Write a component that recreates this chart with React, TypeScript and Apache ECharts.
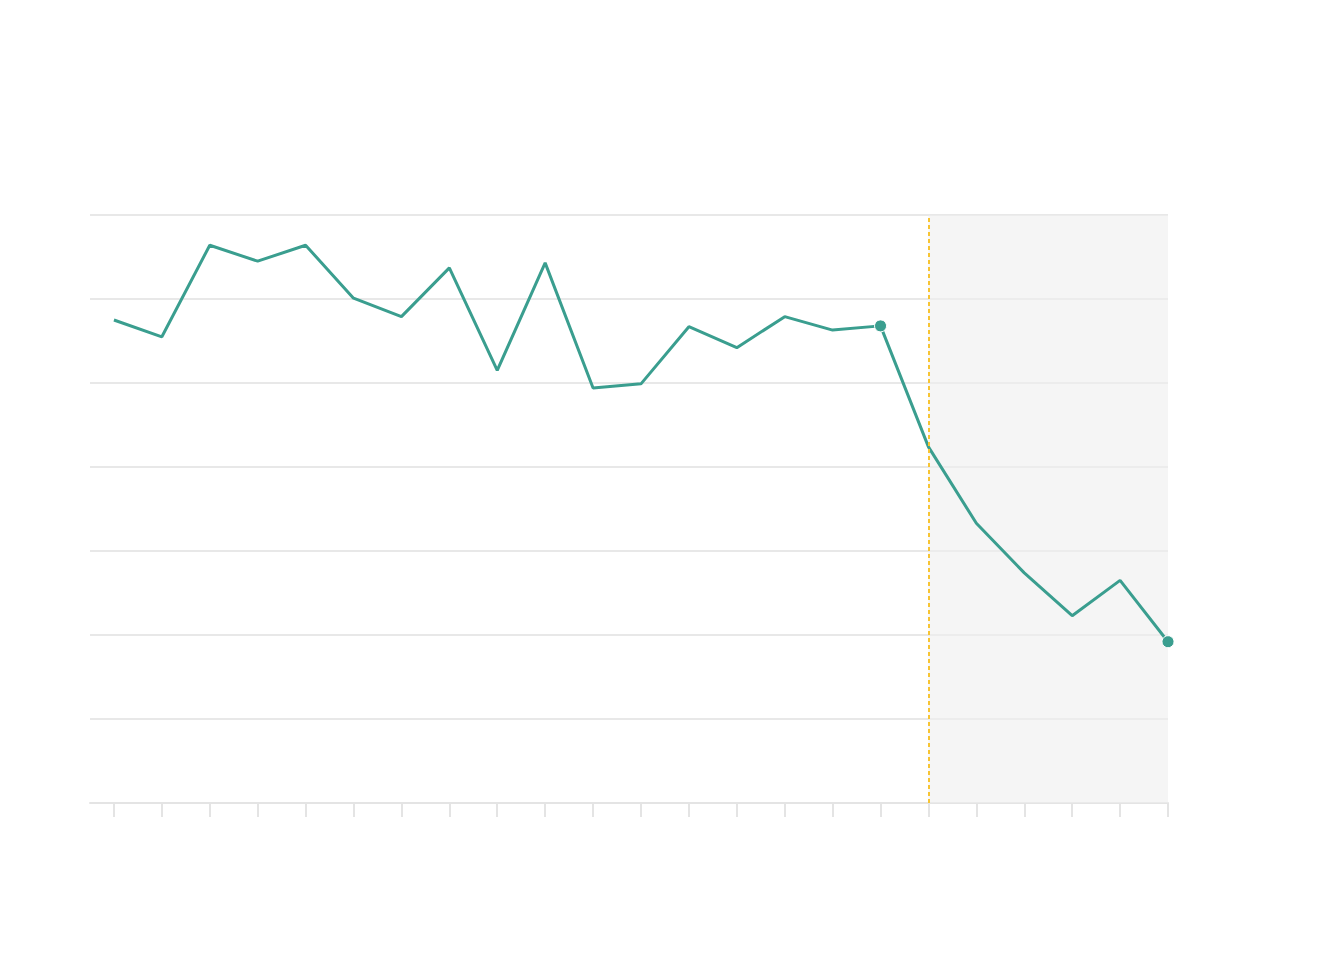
import React, { useEffect, useRef } from "react";
import * as echarts from "echarts";

const periods: number[] = [0, 1, 2, 3, 4, 5, 6, 7, 8, 9, 10, 11, 12, 13, 14, 15, 16, 17, 18, 19, 20, 21, 22];
const values: number[] = [5.75, 5.55, 6.64, 6.45, 6.64, 6.01, 5.79, 6.37, 5.15, 6.43, 4.94, 4.99, 5.67, 5.42, 5.79, 5.63, 5.68, 4.24, 3.33, 2.74, 2.23, 2.65, 1.92];
const highlightIdx: number[] = [16, 22];
const forecastStart = 17;
const forecastEnd = 22;

const TEAL = "#3a9e8f";

export default function App() {
  const ref = useRef<HTMLDivElement>(null);
  useEffect(() => {
    if (!ref.current) return;
    const chart = echarts.init(ref.current, null, { renderer: "svg" });
    chart.setOption({
      animation: false,
      backgroundColor: "#ffffff",
      grid: { left: 90, right: 160, top: 215, bottom: 161, containLabel: false },
      xAxis: {
        type: "value",
        min: -0.5,
        max: 22,
        axisLine: { show: true, lineStyle: { color: "#e4e4e4", width: 2 } },
        axisTick: { show: true, length: 14, customValues: periods, lineStyle: { color: "#e4e4e4", width: 2 } },
        axisLabel: { show: false },
        splitLine: { show: false },
      },
      yAxis: {
        type: "value",
        min: 0,
        max: 7,
        interval: 1,
        axisLine: { show: false },
        axisTick: { show: false },
        axisLabel: { show: false },
        splitLine: { show: true, lineStyle: { color: "#e8e8e8", width: 2 } },
      },
      series: [
        {
          type: "line",
          data: periods.map((p, i) => [p, values[i]]),
          symbol: "none",
          lineStyle: { color: TEAL, width: 3 },
          itemStyle: { color: TEAL },
          z: 3,
          markArea: {
            silent: true,
            itemStyle: { color: "rgba(238,238,238,0.6)" },
            data: [[{ xAxis: forecastStart }, { xAxis: forecastEnd }]],
          },
          markLine: {
            silent: true,
            symbol: "none",
            label: { show: false },
            lineStyle: { color: "#f7c433", type: [4, 3], width: 2 },
            data: [{ xAxis: forecastStart }],
          },
        },
        {
          type: "scatter",
          data: highlightIdx.map((i) => [periods[i], values[i]]),
          symbol: "circle",
          symbolSize: 12,
          itemStyle: { color: TEAL, opacity: 1, borderColor: "#ffffff", borderWidth: 1 },
          z: 4,
        },
      ],
    });
    return () => chart.dispose();
  }, []);
  return (
    <div
      ref={ref}
      style={{ position: "fixed", left: 0, top: 0, width: 1328, height: 964 }}
    />
  );
}
